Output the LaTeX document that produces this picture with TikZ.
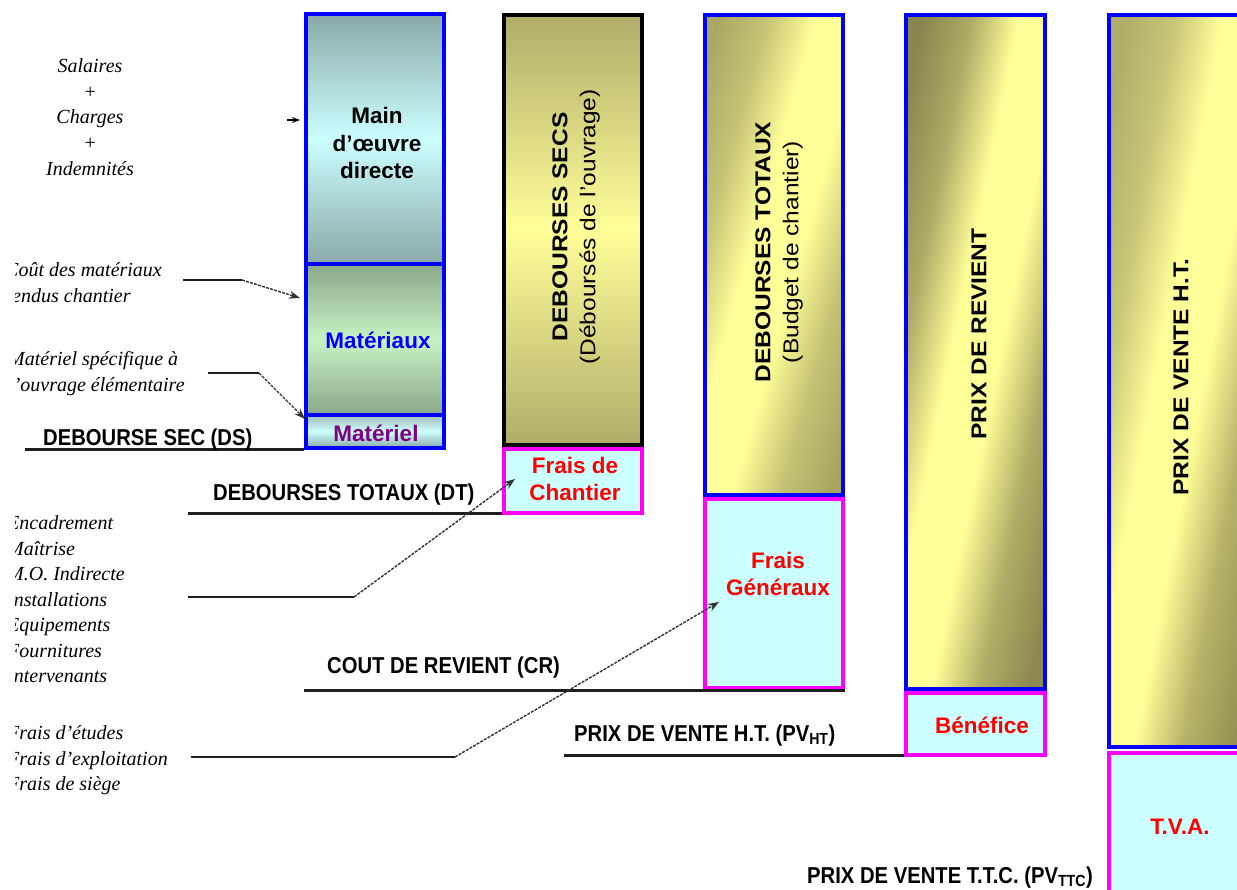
\documentclass[tikz,border=0pt]{standalone}
\usepackage{fontspec}
\setmainfont{Liberation Sans}
\newfontfamily\labfont[FakeStretch=0.88]{Liberation Sans}
\newfontfamily\vfont[FakeStretch=1.14]{Liberation Sans}
\newfontfamily\serfont{Liberation Serif}
\usetikzlibrary{arrows.meta}
\definecolor{bblue}{HTML}{0000FF}
\definecolor{mag}{HTML}{FF00FF}
\definecolor{lcyan}{HTML}{CCFFFF}
\definecolor{tealdk}{HTML}{8AA9A7}
\definecolor{greendk}{HTML}{8AA888}
\definecolor{greenlt}{HTML}{C8F2C4}
\definecolor{olC}{HTML}{AFAC69}
\definecolor{yel}{HTML}{FFFF99}
\definecolor{purp}{HTML}{800080}
\pgfdeclarehorizontalshading{shDT}{100bp}{color(0bp)=(rgb,255:red,170;green,167;blue,100); color(30bp)=(rgb,255:red,170;green,167;blue,100); color(38bp)=(rgb,255:red,197;green,195;blue,117); color(46bp)=(rgb,255:red,255;green,255;blue,153); color(54bp)=(rgb,255:red,255;green,255;blue,153); color(62bp)=(rgb,255:red,196;green,194;blue,116); color(70bp)=(rgb,255:red,168;green,165;blue,98); color(100bp)=(rgb,255:red,168;green,165;blue,98)}
\pgfdeclarehorizontalshading{shPR}{100bp}{color(0bp)=(rgb,255:red,136;green,134;blue,78); color(30bp)=(rgb,255:red,136;green,134;blue,78); color(38bp)=(rgb,255:red,172;green,170;blue,101); color(46bp)=(rgb,255:red,255;green,255;blue,153); color(54bp)=(rgb,255:red,255;green,255;blue,153); color(62bp)=(rgb,255:red,175;green,173;blue,102); color(70bp)=(rgb,255:red,140;green,138;blue,80); color(100bp)=(rgb,255:red,140;green,138;blue,80)}
\pgfdeclarehorizontalshading{shPV}{100bp}{color(0bp)=(rgb,255:red,176;green,173;blue,106); color(30bp)=(rgb,255:red,176;green,173;blue,106); color(38bp)=(rgb,255:red,200;green,198;blue,120); color(46bp)=(rgb,255:red,255;green,255;blue,153); color(54bp)=(rgb,255:red,255;green,255;blue,153); color(62bp)=(rgb,255:red,182;green,179;blue,105); color(70bp)=(rgb,255:red,150;green,147;blue,84); color(100bp)=(rgb,255:red,150;green,147;blue,84)}
\begin{document}
\begin{tikzpicture}[x=1pt,y=-1pt,
  boxb/.style={draw=bblue,line width=4pt,inner sep=0pt,minimum width=138pt},
  boxm/.style={draw=mag,line width=4pt,fill=lcyan,inner sep=0pt,minimum width=138pt},
  boxtxt/.style={font=\bfseries\fontsize{22.5}{27.5}\selectfont,align=center,inner sep=0pt},
  vtxt/.style={rotate=90,align=center,inner sep=0pt,font=\vfont\fontsize{21.5}{28}\selectfont},
  lvl/.style={font=\labfont\bfseries\fontsize{23}{27}\selectfont,anchor=base west,inner sep=0pt},
  itl/.style={font=\serfont\itshape\fontsize{20}{25.7}\selectfont,inner sep=0pt},
  level/.style={line width=3pt,draw=black!88},
  solidc/.style={line width=2.5pt,draw=black!88},
  dashc/.style={line width=1.4pt,draw=black!80,dash pattern=on 3pt off 1.2pt,-{Stealth[length=11pt,width=8pt]}},
  tipc/.style={line width=1.2pt,-{Stealth[length=8pt,width=6pt]}}
]
\useasboundingbox (0,0) rectangle (1237,890);

% column 1
\node[boxb,minimum height=250pt,top color=tealdk,bottom color=tealdk,middle color=lcyan] (mod) at (375,139) {};
\node[boxb,minimum height=151pt,top color=greendk,bottom color=greendk,middle color=greenlt] (mat) at (375,339.5) {};
\node[boxb,minimum height=33pt,top color=tealdk!80,bottom color=tealdk,middle color=lcyan] (mtl) at (375,431.5) {};
\node[boxtxt] (tmod) at (377,143) {Main\\d’œuvre\\directe};
\node[boxtxt,text=bblue] (tmat) at (378,340) {Matériaux};
\node[boxtxt,text=purp] (tmtl) at (376,433) {Matériel};

% column 2
\node[draw=black,line width=4pt,inner sep=0pt,minimum width=138pt,minimum height=430pt,top color=olC,bottom color=olC,middle color=yel] (ds) at (573,230) {};
\node[boxm,minimum height=64pt] (fc) at (573,481) {};
\node[vtxt] (tds) at (576,227) {\textbf{DEBOURSES SECS}\\(Déboursés de l’ouvrage)};
\node[boxtxt,text=red] (tfc) at (575,479) {Frais de\\Chantier};

% column 3
\begin{scope}
\clip (705,15) rectangle (843,495);
\begin{scope}[transform canvas={rotate around={-16:(774,255)}}]
\shade[shading=shDT] (624,-150) rectangle (924,660);
\end{scope}
\end{scope}
\node[boxb,minimum height=480pt] (dt) at (774,255) {};
\node[boxm,minimum height=189pt] (fg) at (774,593.5) {};
\node[vtxt] (tdt) at (779,252) {\textbf{DEBOURSES TOTAUX}\\(Budget de chantier)};
\node[boxtxt,text=red] (tfg) at (778,574) {Frais\\Généraux};

% column 4
\begin{scope}
\clip (906,15) rectangle (1045,689);
\begin{scope}[transform canvas={rotate around={-11.6:(975.5,352)}}]
\shade[shading=shPR] (825.5,-100) rectangle (1125.5,800);
\end{scope}
\end{scope}
\node[boxb,minimum width=139pt,minimum height=674pt] (pr) at (975.5,352) {};
\node[boxm,minimum width=139pt,minimum height=62pt] (ben) at (975.5,724) {};
\node[vtxt,font=\vfont\bfseries\fontsize{21.5}{28}\selectfont] (tpr) at (979,334) {PRIX DE REVIENT};
\node[boxtxt,text=red] (tben) at (982,725) {Bénéfice};

% column 5
\begin{scope}
\clip (1109,15) rectangle (1249,747);
\begin{scope}[transform canvas={rotate around={-10.8:(1179,381)}}]
\shade[shading=shPV] (1029,-100) rectangle (1329,860);
\end{scope}
\end{scope}
\node[boxb,minimum width=140pt,minimum height=732pt] (pv) at (1179,381) {};
\node[boxm,minimum width=140pt,minimum height=147pt] (tva) at (1179,826.5) {};
\node[vtxt,font=\vfont\bfseries\fontsize{21.5}{28}\selectfont] (tpv) at (1181,377) {PRIX DE VENTE H.T.};
\node[boxtxt,text=red] (ttva) at (1180,827) {T.V.A.};

% level lines and labels
\coordinate (dsL) at (25,449);
\coordinate (dtL) at (188,513);
\coordinate (crL) at (304,690);
\coordinate (pvL) at (564,755);
\draw[level] (dsL) -- (dsL -| mtl.south west);
\draw[level] (dtL) -- (dtL -| fc.south west);
\draw[level] (crL) -- (crL -| fg.south east);
\draw[level] (pvL) -- (pvL -| ben.south west);
\node[lvl] (lds) at (43,445) {DEBOURSE SEC (DS)};
\node[lvl] (ldt) at (213,500) {DEBOURSES TOTAUX (DT)};
\node[lvl] (lcr) at (327,673) {COUT DE REVIENT (CR)};
\node[lvl] (lpv) at (574,741) {PRIX DE VENTE H.T. (PV\textsubscript{HT})};
\node[lvl] (lttc) at (807,883) {PRIX DE VENTE T.T.C. (PV\textsubscript{TTC})};

% left annotations
\node[itl,align=center] (sal) at (90,117) {Salaires\\+\\Charges\\+\\Indemnités};
\begin{scope}
\clip (15,0) rectangle (300,890);
\node[itl,align=left,anchor=west] (cmat) at (5,282.5) {Coût des matériaux\\rendus chantier};
\node[itl,align=left,anchor=west] (cspe) at (8,373.5) {Matériel spécifique à\\l’ouvrage élémentaire};
\node[itl,align=left,anchor=west,font=\serfont\itshape\fontsize{20}{25.5}\selectfont] (cfc) at (7,599.5) {Encadrement\\Maîtrise\\M.O. Indirecte\\Installations\\Equipements\\Fournitures\\Intervenants};
\node[itl,align=left,anchor=west,font=\serfont\itshape\fontsize{20}{25.5}\selectfont] (cfg) at (7,760.5) {Frais d’études\\Frais d’exploitation\\Frais de siège};
\end{scope}

% connectors
\coordinate (k0a) at (287,120);
\coordinate (k0t) at (300,120);
\draw[tipc] (k0a) -- (k0t);
\coordinate (k1a) at (183,280);
\coordinate (k1b) at (242,280);
\coordinate (k1t) at (300,298);
\draw[solidc] (k1a) -- (k1b);
\draw[dashc] (k1b) -- (k1t);
\coordinate (k2a) at (208,373);
\coordinate (k2b) at (259,373);
\coordinate (k2t) at (305,419);
\draw[solidc] (k2a) -- (k2b);
\draw[dashc] (k2b) -- (k2t);
\coordinate (k3a) at (188,597);
\coordinate (k3b) at (354,597);
\coordinate (k3t) at (515,479);
\draw[solidc] (k3a) -- (k3b);
\draw[dashc] (k3b) -- (k3t);
\coordinate (k4a) at (191,757);
\coordinate (k4b) at (455,757);
\coordinate (k4t) at (719,602);
\draw[solidc] (k4a) -- (k4b);
\draw[dashc] (k4b) -- (k4t);
\end{tikzpicture}
\end{document}
